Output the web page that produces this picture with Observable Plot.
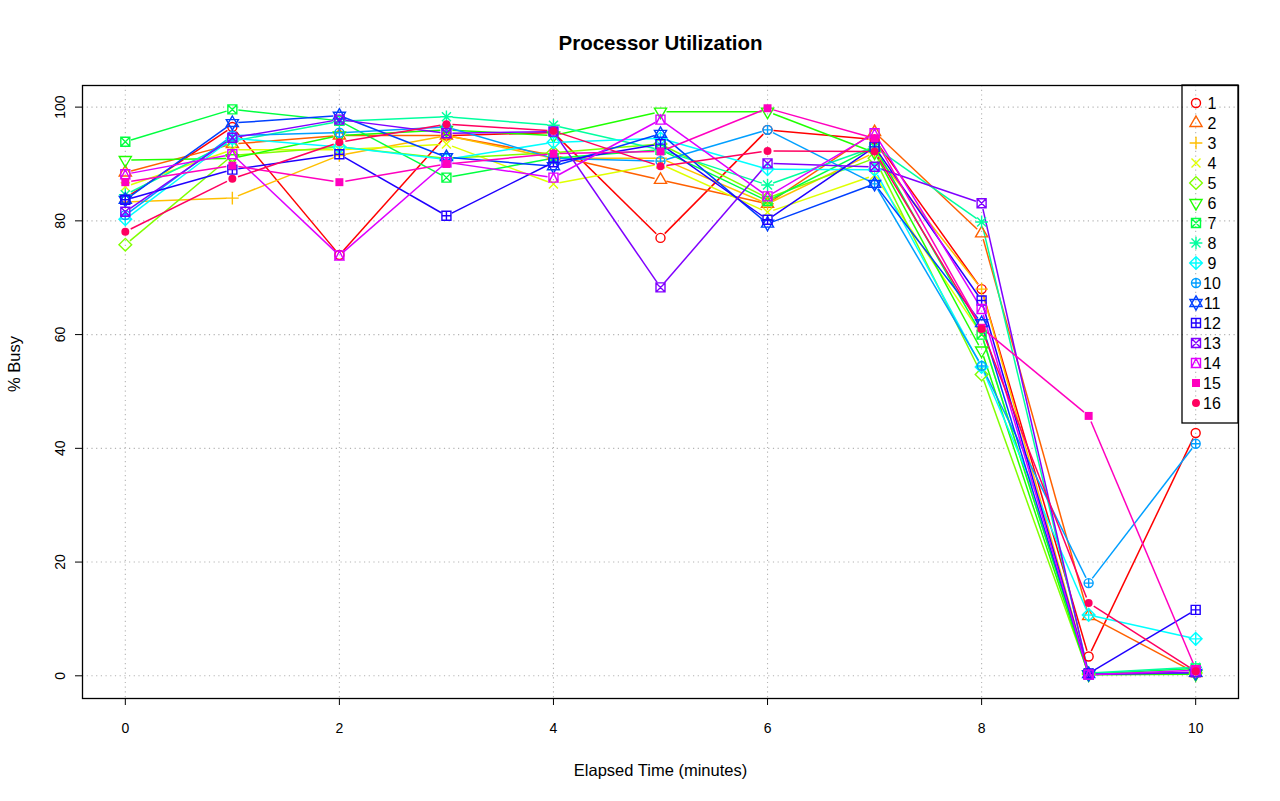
<!DOCTYPE html>
<html><head><meta charset="utf-8">
<script src="https://cdn.jsdelivr.net/npm/d3@7"></script>
<script src="https://cdn.jsdelivr.net/npm/@observablehq/plot@0.6"></script>
<style>body{margin:0;background:#fff} svg{display:block}</style>
</head><body><div id="chart"></div>
<script>
// ---- data ----
const minutes = [0,1,2,3,4,5,6,7,8,9,10];
const processors = ["1","2","3","4","5","6","7","8","9","10","11","12","13","14","15","16"];
const s1  = [84.0, 96.5, 74.0, 95.0, 95.5, 77.0, 96.0, 94.3, 68.0, 3.4, 42.7];
const s2  = [88.5, 93.5, 95.0, 95.0, 91.5, 87.2, 83.0, 95.6, 77.8, 10.5, 0.5];
const s3  = [83.3, 84.0, 91.5, 95.0, 91.0, 91.0, 83.0, 92.0, 68.0, 0.5, 0.5];
const s4  = [86.0, 92.5, 92.5, 93.5, 86.5, 90.0, 81.5, 88.0, 60.0, 0.4, 0.6];
const s5  = [75.8, 91.5, 93.0, 91.0, 92.0, 93.5, 84.0, 91.0, 53.0, 0.3, 0.5];
const s6  = [90.7, 91.0, 95.0, 96.0, 95.0, 99.2, 99.2, 92.0, 57.2, 0.2, 0.3];
const s7  = [93.9, 99.6, 97.6, 87.6, 91.0, 92.5, 83.5, 93.0, 60.0, 0.3, 1.3];
const s8  = [84.6, 94.0, 97.5, 98.3, 96.8, 92.5, 86.3, 93.0, 79.8, 0.5, 1.5];
const s9  = [80.3, 94.5, 93.0, 90.8, 93.8, 94.5, 89.1, 89.0, 54.3, 10.7, 6.5];
const s10 = [81.0, 95.0, 95.5, 96.5, 91.0, 90.5, 96.0, 86.5, 54.5, 16.3, 40.8];
const s11 = [83.7, 97.2, 98.5, 91.2, 89.6, 95.3, 79.5, 86.5, 62.0, 0.3, 0.5];
const s12 = [83.7, 89.0, 91.7, 80.9, 90.3, 93.5, 80.2, 93.0, 66.0, 0.4, 11.6];
const s13 = [81.6, 94.6, 97.8, 95.4, 95.7, 68.3, 90.1, 89.5, 83.1, 0.2, 0.6];
const s14 = [88.2, 91.7, 73.9, 90.3, 87.6, 97.8, 84.3, 95.4, 64.5, 0.2, 1.0];
const s15 = [86.8, 89.7, 86.8, 90.0, 91.8, 92.2, 99.8, 94.5, 61.2, 45.7, 1.2];
const s16 = [78.1, 87.4, 93.8, 97.0, 95.8, 89.6, 92.3, 92.2, 61.0, 12.8, 0.8];
const seriesValues = [s1,s2,s3,s4,s5,s6,s7,s8,s9,s10,s11,s12,s13,s14,s15,s16];
const colors = ["#FF0000","#FF6000","#FFBF00","#DFFF00","#80FF00","#20FF00","#00FF40","#00FF9F",
                "#00FFFF","#009FFF","#0040FF","#2000FF","#8000FF","#DF00FF","#FF00BF","#FF0060"];
const xTicks = [0,2,4,6,8,10];
const yTicks = [0,20,40,60,80,100];
const title = "Processor Utilization";
const xLabel = "Elapsed Time (minutes)";
const yLabel = "% Busy";

// ---- R-like plotting symbols (pch 1..16) ----
const R0 = 4.5;
function tri(c, r, up) {
  const top = 1.555*r, base = 0.777*r, hw = 1.347*r, s = up ? -1 : 1;
  c.moveTo(0, s*top); c.lineTo(hw, -s*base); c.lineTo(-hw, -s*base); c.closePath();
}
function circ(c, r) { c.moveTo(r, 0); c.arc(0, 0, r, 0, 2*Math.PI); c.closePath(); }
function sq(c, h) { c.moveTo(-h,-h); c.lineTo(h,-h); c.lineTo(h,h); c.lineTo(-h,h); c.closePath(); }
function plus(c, h) { c.moveTo(-h,0); c.lineTo(h,0); c.moveTo(0,-h); c.lineTo(0,h); }
function times(c, h) { c.moveTo(-h,-h); c.lineTo(h,h); c.moveTo(-h,h); c.lineTo(h,-h); }
function diam(c, h) { c.moveTo(0,-h); c.lineTo(h,0); c.lineTo(0,h); c.lineTo(-h,0); c.closePath(); }
const pchDraw = [
  (c,r)=>circ(c,r),
  (c,r)=>tri(c,r,true),
  (c,r)=>plus(c,1.414*r),
  (c,r)=>times(c,r),
  (c,r)=>diam(c,1.414*r),
  (c,r)=>tri(c,r,false),
  (c,r)=>{sq(c,r); times(c,r);},
  (c,r)=>{times(c,r); plus(c,1.414*r);},
  (c,r)=>{diam(c,1.414*r); plus(c,1.414*r);},
  (c,r)=>{circ(c,r); plus(c,r);},
  (c,r)=>{const xc=1.347*r, yc=0.5*(0.777*r+1.555*r);
          c.moveTo(0,-yc-0.4*r); c.lineTo(xc,yc-0.4*r); c.lineTo(-xc,yc-0.4*r); c.closePath();
          c.moveTo(0,yc+0.4*r); c.lineTo(xc,-yc+0.4*r); c.lineTo(-xc,-yc+0.4*r); c.closePath();},
  (c,r)=>{sq(c,r); plus(c,r);},
  (c,r)=>{sq(c,r); times(c,r);},
  (c,r)=>{sq(c,r); c.moveTo(0,-r); c.lineTo(r,r); c.lineTo(-r,r); c.closePath();},
  (c,r)=>sq(c,0.886*r),
  (c,r)=>circ(c,0.886*r)
];
const filled = [false,false,false,false,false,false,false,false,false,false,false,false,false,false,true,true];
const symbolOf = (k) => ({draw(context, size) { pchDraw[k](context, Math.sqrt(size/Math.PI)); }});

// ---- layout ----
const W = 1280, H = 801;
const mL = 82, mR = 42, mT = 85, mB = 103;
const xDomain = [-0.4, 10.4];
const yDomain = [-3.99, 103.8];
const xs = d3.scaleLinear(xDomain, [mL, W - mR]);
const ys = d3.scaleLinear(yDomain, [H - mB, mT]);

// rows
const points = [];
seriesValues.forEach((vals, k) => vals.forEach((v, i) => points.push({k, proc: processors[k], t: minutes[i], v})));

// type = "b": segments with gaps around points
const GAP = 6;
const segs = [];
seriesValues.forEach((vals, k) => {
  for (let i = 0; i < vals.length - 1; i++) {
    const x1 = xs(minutes[i]), y1 = ys(vals[i]), x2 = xs(minutes[i+1]), y2 = ys(vals[i+1]);
    const L = Math.hypot(x2-x1, y2-y1);
    if (L <= 2*GAP) continue;
    const ux = (x2-x1)/L, uy = (y2-y1)/L;
    segs.push({k, x1: xs.invert(x1+ux*GAP), y1: ys.invert(y1+uy*GAP),
                  x2: xs.invert(x2-ux*GAP), y2: ys.invert(y2-uy*GAP)});
  }
});

const font = "Liberation Sans, Arial, Helvetica, sans-serif";
const marks = [
  Plot.ruleY(yTicks, {y: d=>d, stroke: "#b4b4b4", strokeWidth: 1.1, strokeDasharray: "1.2,3.5"}),
  Plot.ruleX(xTicks, {x: d=>d, stroke: "#b4b4b4", strokeWidth: 1.1, strokeDasharray: "1.2,3.5"}),
  Plot.link(segs, {x1: "x1", y1: "y1", x2: "x2", y2: "y2", stroke: d => colors[d.k], strokeWidth: 1.5}),
];
for (let k = 0; k < 16; k++) {
  const pts = points.filter(p => p.k === k);
  marks.push(Plot.dot(pts, {x: "t", y: "v", r: R0, symbol: symbolOf(k),
    stroke: filled[k] ? "none" : colors[k], fill: filled[k] ? colors[k] : "none", strokeWidth: 1.4}));
}
marks.push(
  Plot.frame({stroke: "black", strokeWidth: 1.3}),
  Plot.axisX({ticks: xTicks, tickSize: 7, tickPadding: 18, fontSize: 14, tickFormat: d=>String(d)}),
  Plot.axisY({ticks: yTicks, tickSize: 7, tickFormat: () => ""}),
  Plot.text(yTicks, {y: d=>d, text: d=>String(d), frameAnchor: "left", dx: -22, rotate: -90, fontSize: 14, textAnchor: "middle"}),
  Plot.text([title], {frameAnchor: "top", dy: -50, fontSize: 20.5, fontWeight: "bold", text: d=>d}),
  Plot.text([xLabel], {frameAnchor: "bottom", dy: 77, fontSize: 16.5, text: d=>d}),
  Plot.text([yLabel], {frameAnchor: "left", dx: -68, rotate: -90, fontSize: 16.5, text: d=>d})
);

const plot = Plot.plot({
  width: W, height: H,
  marginLeft: mL, marginRight: mR, marginTop: mT, marginBottom: mB,
  style: {fontFamily: font, background: "white", color: "black"},
  x: {domain: xDomain, axis: null},
  y: {domain: yDomain, axis: null},
  marks
});
document.getElementById("chart").appendChild(plot);

// ---- legend (top-right, inside plot box, like R legend("topright")) ----
const svg = d3.select(plot);
const lg = svg.append("g").attr("font-family", font).attr("font-size", 16);
const lx = W - mR - 56, ly = mT;
lg.append("rect").attr("x", lx).attr("y", ly).attr("width", 56).attr("height", 338)
  .attr("fill", "none").attr("stroke", "black").attr("stroke-width", 1.3);
processors.forEach((p, k) => {
  const cy = ly + 18 + 20*k;
  const path = d3.path(); pchDraw[k](path, R0);
  lg.append("path").attr("d", path.toString()).attr("transform", `translate(${lx+14},${cy})`)
    .attr("fill", filled[k] ? colors[k] : "none").attr("stroke", filled[k] ? "none" : colors[k]).attr("stroke-width", 1.4);
  lg.append("text").attr("x", lx + 30).attr("y", cy).attr("dy", "0.35em").text(p);
});
</script></body></html>
